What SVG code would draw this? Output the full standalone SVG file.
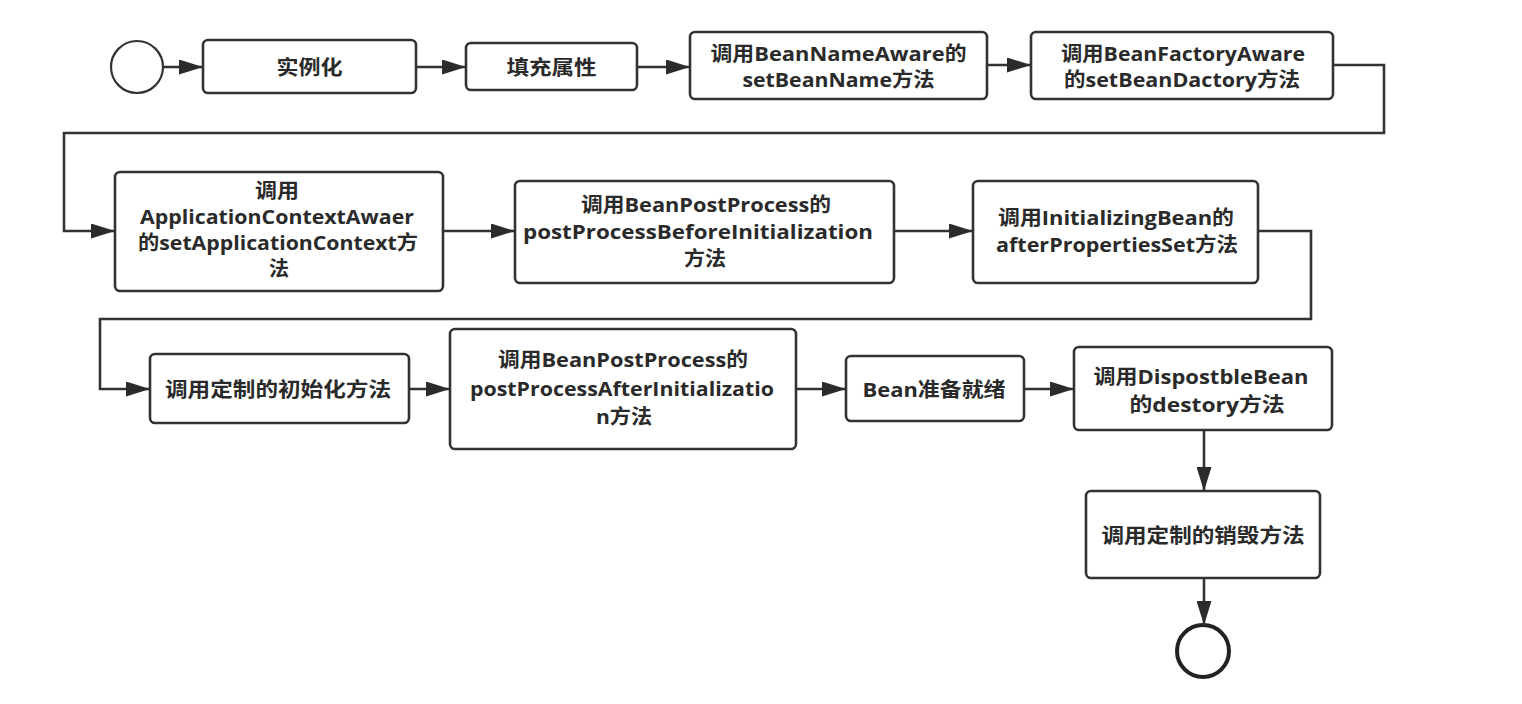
<svg xmlns="http://www.w3.org/2000/svg" width="1522" height="704" viewBox="0 0 1522 704">
  <defs>
    <marker id="arrow" viewBox="0 0 24 15" refX="24" refY="7.5" markerWidth="24" markerHeight="15" markerUnits="userSpaceOnUse" orient="auto">
      <path d="M0,0 L24,7.5 L0,15 Z" fill="#2b2b2b"/>
    </marker>
    <style>
      .box { fill: #ffffff; stroke: #333333; stroke-width: 2.6; }
      .edge { fill: none; stroke: #333333; stroke-width: 2.6; marker-end: url(#arrow); }
      .t { font-family: "Open Sans", "Noto Sans CJK SC", sans-serif; font-weight: bold; font-size: 20px; fill: #2a2a2a; text-anchor: middle; dominant-baseline: central; }
    </style>
  </defs>
  <rect width="1522" height="704" fill="#ffffff"/>

  <!-- start / end events -->
  <g id="start"><circle cx="137" cy="67" r="26" fill="#fff" stroke="#333" stroke-width="2.2"/></g>
  <g id="end"><circle cx="1203" cy="651" r="26" fill="#fff" stroke="#222" stroke-width="4"/></g>

  <!-- row 1 -->
  <g id="n1"><rect class="box" x="203" y="40" width="213" height="53" rx="5"/>
    <text class="t" x="309.5" y="67" textLength="66" lengthAdjust="spacingAndGlyphs">实例化</text></g>
  <g id="n2"><rect class="box" x="466" y="43" width="171" height="47" rx="5"/>
    <text class="t" x="551.5" y="67" textLength="90" lengthAdjust="spacingAndGlyphs">填充属性</text></g>
  <g id="n3"><rect class="box" x="690" y="32" width="297" height="67" rx="5"/>
    <text class="t" x="838.5" y="53" textLength="256" lengthAdjust="spacingAndGlyphs">调用BeanNameAware的</text>
    <text class="t" x="838.5" y="79" textLength="192" lengthAdjust="spacingAndGlyphs">setBeanName方法</text></g>
  <g id="n4"><rect class="box" x="1031" y="32" width="302" height="67" rx="5"/>
    <text class="t" x="1183" y="53" textLength="244" lengthAdjust="spacingAndGlyphs">调用BeanFactoryAware</text>
    <text class="t" x="1182" y="79" textLength="236" lengthAdjust="spacingAndGlyphs">的setBeanDactory方法</text></g>

  <!-- row 2 -->
  <g id="n5"><rect class="box" x="115" y="172" width="328" height="119" rx="5"/>
    <text class="t" x="277" y="190" textLength="44" lengthAdjust="spacingAndGlyphs">调用</text>
    <text class="t" x="277" y="216" textLength="274" lengthAdjust="spacingAndGlyphs">ApplicationContextAwaer</text>
    <text class="t" x="278" y="242" textLength="280" lengthAdjust="spacingAndGlyphs">的setApplicationContext方</text>
    <text class="t" x="279" y="268">法</text></g>
  <g id="n6"><rect class="box" x="515" y="181" width="379" height="102" rx="5"/>
    <text class="t" x="706" y="204" textLength="250" lengthAdjust="spacingAndGlyphs">调用BeanPostProcess的</text>
    <text class="t" x="698" y="231" textLength="350" lengthAdjust="spacingAndGlyphs">postProcessBeforeInitialization</text>
    <text class="t" x="705" y="258" textLength="42" lengthAdjust="spacingAndGlyphs">方法</text></g>
  <g id="n7"><rect class="box" x="973" y="181" width="285" height="102" rx="5"/>
    <text class="t" x="1116" y="217" textLength="236" lengthAdjust="spacingAndGlyphs">调用InitializingBean的</text>
    <text class="t" x="1117" y="244" textLength="242" lengthAdjust="spacingAndGlyphs">afterPropertiesSet方法</text></g>

  <!-- row 3 -->
  <g id="n8"><rect class="box" x="150" y="354" width="259" height="69" rx="5"/>
    <text class="t" x="278" y="389" textLength="226" lengthAdjust="spacingAndGlyphs">调用定制的初始化方法</text></g>
  <g id="n9"><rect class="box" x="450" y="329" width="346" height="120" rx="5"/>
    <text class="t" x="623" y="359" textLength="250" lengthAdjust="spacingAndGlyphs">调用BeanPostProcess的</text>
    <text class="t" x="622" y="388" textLength="304" lengthAdjust="spacingAndGlyphs">postProcessAfterInitializatio</text>
    <text class="t" x="624" y="416" textLength="56" lengthAdjust="spacingAndGlyphs">n方法</text></g>
  <g id="n10"><rect class="box" x="846" y="356" width="178" height="65" rx="5"/>
    <text class="t" x="934" y="389" textLength="143" lengthAdjust="spacingAndGlyphs">Bean准备就绪</text></g>
  <g id="n11"><rect class="box" x="1074" y="347" width="258" height="83" rx="5"/>
    <text class="t" x="1201" y="376" textLength="215" lengthAdjust="spacingAndGlyphs">调用DispostbleBean</text>
    <text class="t" x="1207" y="404" textLength="155" lengthAdjust="spacingAndGlyphs">的destory方法</text></g>
  <g id="n12"><rect class="box" x="1086" y="491" width="234" height="87" rx="5"/>
    <text class="t" x="1203" y="535" textLength="203" lengthAdjust="spacingAndGlyphs">调用定制的销毁方法</text></g>

  <!-- connectors -->
  <g id="edges">
    <path class="edge" d="M163,67 L203,67"/>
    <path class="edge" d="M416,67 L466,67"/>
    <path class="edge" d="M637,67 L690,67"/>
    <path class="edge" d="M987,65 L1031,65"/>
    <path class="edge" d="M1333,65 L1384,65 L1384,133 L64,133 L64,231 L115,231"/>
    <path class="edge" d="M443,231 L515,231"/>
    <path class="edge" d="M894,231 L973,231"/>
    <path class="edge" d="M1258,231 L1311,231 L1311,319 L100,319 L100,389 L150,389"/>
    <path class="edge" d="M409,389 L450,389"/>
    <path class="edge" d="M796,389 L846,389"/>
    <path class="edge" d="M1024,389 L1074,389"/>
    <path class="edge" d="M1204,430 L1204,491"/>
    <path class="edge" d="M1204,578 L1204,625"/>
  </g>
</svg>
